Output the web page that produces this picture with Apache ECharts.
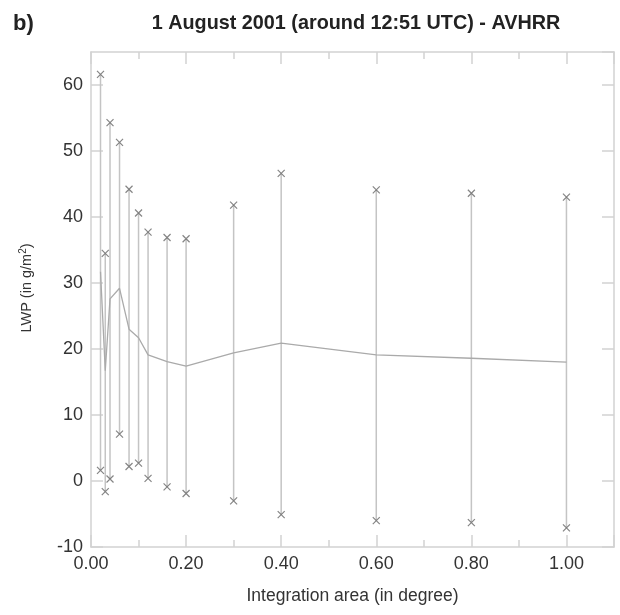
<!DOCTYPE html>
<html>
<head>
<meta charset="utf-8">
<script src="https://cdn.jsdelivr.net/npm/echarts@6/dist/echarts.min.js"></script>
<style>
  html, body { margin: 0; padding: 0; background: #fff; }
  #chart { width: 620px; height: 615px; }
</style>
</head>
<body>
<div id="chart"></div>
<script>
// integration areas (degree)
var areas = [0.02, 0.03, 0.04, 0.06, 0.08, 0.10, 0.12, 0.16, 0.20, 0.30, 0.40, 0.60, 0.80, 1.00];
// mean LWP
var meanLwp = [31.7, 16.7, 27.6, 29.2, 23.0, 21.7, 19.1, 18.1, 17.4, 19.4, 20.9, 19.1, 18.6, 18.0];
// max / min of each range
var maxLwp = [61.6, 34.5, 54.3, 51.3, 44.2, 40.6, 37.7, 36.9, 36.7, 41.8, 46.6, 44.1, 43.6, 43.0];
var minLwp = [1.6, -1.6, 0.3, 7.1, 2.2, 2.7, 0.4, -0.9, -1.9, -3.0, -5.1, -6.0, -6.3, -7.1];

var frameColor = '#d2d2d2';
var textColor = '#333';

var meanData = [], maxData = [], minData = [], rangeData = [];
for (var i = 0; i < areas.length; i++) {
    meanData.push([areas[i], meanLwp[i]]);
    maxData.push([areas[i], maxLwp[i]]);
    minData.push([areas[i], minLwp[i]]);
    rangeData.push([areas[i], minLwp[i], maxLwp[i]]);
}

var cross = 'path://M0,0L10,10M10,0L0,10';

function frameAxis(extra) {
    var ax = {
        type: 'value',
        axisLine: { show: true, onZero: false, lineStyle: { color: frameColor, width: 1.5 } },
        axisTick: { show: true, inside: true, length: 12, lineStyle: { color: frameColor, width: 1.5 } },
        splitLine: { show: false }
    };
    for (var k in extra) ax[k] = extra[k];
    return ax;
}

var myChart = echarts.init(document.getElementById('chart'));
var option = {
    animation: false,
    backgroundColor: '#fff',
    textStyle: { fontFamily: 'Liberation Sans, Arial, sans-serif' },
    title: [{
        text: 'b)',
        left: 8, top: 8,
        textStyle: { fontSize: 22, fontWeight: 'bold', color: '#222', fontFamily: 'Liberation Sans' }
    }, {
        text: '1 August 2001 (around 12:51 UTC) - AVHRR',
        left: 351, top: 9, textAlign: 'center',
        textStyle: { fontSize: 19.8, fontWeight: 'bold', color: '#222', fontFamily: 'Liberation Sans' }
    }],
    graphic: [{
        type: 'text',
        x: 27, y: 288, rotation: Math.PI / 2,
        style: {
            text: 'LWP (in g/m{sup|2})',
            rich: { sup: { fontSize: 10, verticalAlign: 'top', padding: [0, 0, 8, 0], fill: textColor } },
            fontSize: 14.5, fill: textColor, fontFamily: 'Liberation Sans',
            align: 'center', verticalAlign: 'middle'
        }
    }],
    grid: { left: 91, right: 6, top: 52, bottom: 68 },
    xAxis: [frameAxis({
        min: 0, max: 1.1, interval: 0.2,
        name: 'Integration area (in degree)',
        nameLocation: 'middle', nameGap: 40,
        nameTextStyle: { fontSize: 17.5, color: textColor },
        minorTick: { show: true, splitNumber: 2, length: 7, lineStyle: { color: frameColor, width: 1.5 } },
        axisLabel: {
            fontSize: 18, color: textColor, margin: 8, showMaxLabel: false,
            formatter: function (v) { return v.toFixed(2); }
        }
    }), frameAxis({
        position: 'top',
        min: 0, max: 1.1, interval: 0.2,
        minorTick: { show: true, splitNumber: 2, length: 7, lineStyle: { color: frameColor, width: 1.5 } },
        axisLabel: { show: false }
    })],
    yAxis: [frameAxis({
        min: -10, max: 65, interval: 10,
        axisLabel: { fontSize: 18, color: textColor, margin: 8, showMaxLabel: false }
    }), frameAxis({
        position: 'right',
        min: -10, max: 65, interval: 10,
        axisLabel: { show: false }
    })],
    series: [{
        type: 'custom',
        data: rangeData,
        renderItem: function (params, api) {
            var lo = api.coord([api.value(0), api.value(1)]);
            var hi = api.coord([api.value(0), api.value(2)]);
            return {
                type: 'line',
                shape: { x1: lo[0], y1: lo[1], x2: hi[0], y2: hi[1] },
                style: { stroke: '#c4c4c4', lineWidth: 1.5 }
            };
        },
        silent: true
    }, {
        type: 'line',
        data: meanData,
        showSymbol: false,
        lineStyle: { color: '#aaaaaa', width: 1.3 },
        silent: true
    }, {
        type: 'scatter',
        data: maxData,
        symbol: cross, symbolSize: 7,
        itemStyle: { color: 'transparent', borderColor: '#666', borderWidth: 1.2 }
    }, {
        type: 'scatter',
        data: minData,
        symbol: cross, symbolSize: 7,
        itemStyle: { color: 'transparent', borderColor: '#666', borderWidth: 1.2 }
    }]
};
myChart.setOption(option);
</script>
</body>
</html>
